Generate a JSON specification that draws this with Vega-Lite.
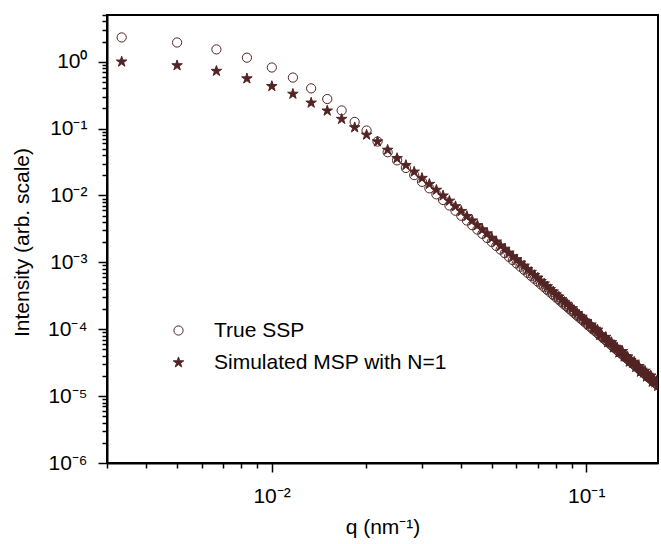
{
  "$schema": "https://vega.github.io/schema/vega-lite/v6.json",
  "width": 551,
  "height": 448,
  "autosize": {"type": "none"},
  "padding": {"left": 107, "top": 15, "right": 3, "bottom": 81},
  "background": "white",
  "config": {
    "view": {"stroke": "black", "strokeWidth": 2},
    "font": "Liberation Sans",
    "axis": {
      "labelFont": "Liberation Sans", "titleFont": "Liberation Sans",
      "labelFontSize": 21, "titleFontSize": 21, "titleFontWeight": "normal",
      "labelColor": "black", "titleColor": "black",
      "domainColor": "black", "domainWidth": 2,
      "tickColor": "black", "tickWidth": 1.5,
      "grid": false, "labelOverlap": false, "labelFlush": false
    }
  },
  "data": {"values": [
    {"q":0.00334,"ssp":2.31,"msp":1.0},
    {"q":0.00501,"ssp":1.94,"msp":0.88},
    {"q":0.00668,"ssp":1.53,"msp":0.726},
    {"q":0.00835,"ssp":1.15,"msp":0.56},
    {"q":0.01002,"ssp":0.82,"msp":0.43},
    {"q":0.01169,"ssp":0.58,"msp":0.33},
    {"q":0.01336,"ssp":0.40,"msp":0.243},
    {"q":0.01503,"ssp":0.277,"msp":0.185},
    {"q":0.0167,"ssp":0.187,"msp":0.139},
    {"q":0.01837,"ssp":0.126,"msp":0.104},
    {"q":0.02004,"ssp":0.0937,"msp":0.0807},
    {"q":0.02171,"ssp":0.0641,"msp":0.064},
    {"q":0.02338,"ssp":0.0443,"msp":0.048},
    {"q":0.02505,"ssp":0.0335,"msp":0.036},
    {"q":0.02672,"ssp":0.0258,"msp":0.0284},
    {"q":0.02839,"ssp":0.0202,"msp":0.0226},
    {"q":0.03006,"ssp":0.0160,"msp":0.0182},
    {"q":0.03173,"ssp":0.0128,"msp":0.0148},
    {"q":0.0334,"ssp":0.0104,"msp":0.0121},
    {"q":0.03507,"ssp":0.00856,"msp":0.00993},
    {"q":0.03674,"ssp":0.00709,"msp":0.0083},
    {"q":0.03841,"ssp":0.00592,"msp":0.00687},
    {"q":0.04008,"ssp":0.00498,"msp":0.00583},
    {"q":0.04175,"ssp":0.00422,"msp":0.0049},
    {"q":0.04342,"ssp":0.0036,"msp":0.00421},
    {"q":0.04509,"ssp":0.00309,"msp":0.00358},
    {"q":0.04676,"ssp":0.00267,"msp":0.0031},
    {"q":0.04843,"ssp":0.00231,"msp":0.0027},
    {"q":0.0501,"ssp":0.00202,"msp":0.00232},
    {"q":0.05177,"ssp":0.00176,"msp":0.00204},
    {"q":0.05344,"ssp":0.00155,"msp":0.00178},
    {"q":0.05511,"ssp":0.00137,"msp":0.00159},
    {"q":0.05678,"ssp":0.00121,"msp":0.00139},
    {"q":0.05845,"ssp":0.001078,"msp":0.001229},
    {"q":0.06012,"ssp":0.000962,"msp":0.001106},
    {"q":0.06179,"ssp":0.000861,"msp":0.000982},
    {"q":0.06346,"ssp":0.000773,"msp":0.000889},
    {"q":0.06513,"ssp":0.000696,"msp":0.000786},
    {"q":0.0668,"ssp":0.000627,"msp":0.000715},
    {"q":0.06847,"ssp":0.000568,"msp":0.000642},
    {"q":0.07014,"ssp":0.000515,"msp":0.000587},
    {"q":0.07181,"ssp":0.000468,"msp":0.000524},
    {"q":0.07348,"ssp":0.000426,"msp":0.000481},
    {"q":0.07515,"ssp":0.000389,"msp":0.000436},
    {"q":0.07682,"ssp":0.000356,"msp":0.000395},
    {"q":0.07849,"ssp":0.000326,"msp":0.000365},
    {"q":0.08016,"ssp":0.0003,"msp":0.00033},
    {"q":0.08183,"ssp":0.000276,"msp":0.000306},
    {"q":0.0835,"ssp":0.000254,"msp":0.000279},
    {"q":0.08517,"ssp":0.000234,"msp":0.000255},
    {"q":0.08684,"ssp":0.000217,"msp":0.000239},
    {"q":0.08851,"ssp":0.0002,"msp":0.000216},
    {"q":0.09018,"ssp":0.000186,"msp":0.000205},
    {"q":0.09185,"ssp":0.000172,"msp":0.000184},
    {"q":0.09352,"ssp":0.00016,"msp":0.000174},
    {"q":0.09519,"ssp":0.000149,"msp":0.000158},
    {"q":0.09686,"ssp":0.000139,"msp":0.000153},
    {"q":0.09853,"ssp":0.00013,"msp":0.000135},
    {"q":0.1002,"ssp":0.000121,"msp":0.000132},
    {"q":0.10187,"ssp":0.000113,"msp":0.000117},
    {"q":0.10354,"ssp":0.000106,"msp":0.000117},
    {"q":0.10521,"ssp":0.0000995,"msp":0.000102},
    {"q":0.10688,"ssp":0.0000933,"msp":0.000101},
    {"q":0.10855,"ssp":0.0000876,"msp":0.0000981},
    {"q":0.11022,"ssp":0.0000824,"msp":0.0000816},
    {"q":0.11189,"ssp":0.0000775,"msp":0.0000829},
    {"q":0.11356,"ssp":0.000073,"msp":0.0000752},
    {"q":0.11523,"ssp":0.0000688,"msp":0.0000764},
    {"q":0.1169,"ssp":0.0000649,"msp":0.0000636},
    {"q":0.11857,"ssp":0.0000612,"msp":0.0000649},
    {"q":0.12024,"ssp":0.0000579,"msp":0.0000637},
    {"q":0.12191,"ssp":0.0000547,"msp":0.0000531},
    {"q":0.12358,"ssp":0.0000518,"msp":0.0000544},
    {"q":0.12525,"ssp":0.000049,"msp":0.0000534},
    {"q":0.12692,"ssp":0.0000465,"msp":0.0000446},
    {"q":0.12859,"ssp":0.0000441,"msp":0.0000459},
    {"q":0.13026,"ssp":0.0000418,"msp":0.0000468},
    {"q":0.13193,"ssp":0.0000397,"msp":0.0000389},
    {"q":0.1336,"ssp":0.0000378,"msp":0.0000389},
    {"q":0.13527,"ssp":0.0000359,"msp":0.0000388},
    {"q":0.13694,"ssp":0.0000342,"msp":0.0000325},
    {"q":0.13861,"ssp":0.0000325,"msp":0.0000345},
    {"q":0.14028,"ssp":0.000031,"msp":0.0000313},
    {"q":0.14195,"ssp":0.0000295,"msp":0.0000325},
    {"q":0.14362,"ssp":0.0000282,"msp":0.0000271},
    {"q":0.14529,"ssp":0.0000269,"msp":0.000028},
    {"q":0.14696,"ssp":0.0000256,"msp":0.0000279},
    {"q":0.14863,"ssp":0.0000245,"msp":0.000023},
    {"q":0.1503,"ssp":0.0000234,"msp":0.0000246},
    {"q":0.15197,"ssp":0.0000224,"msp":0.0000224},
    {"q":0.15364,"ssp":0.0000214,"msp":0.0000238},
    {"q":0.15531,"ssp":0.0000205,"msp":0.0000195},
    {"q":0.15698,"ssp":0.0000196,"msp":0.0000208},
    {"q":0.15865,"ssp":0.0000188,"msp":0.0000192},
    {"q":0.16032,"ssp":0.000018,"msp":0.0000202},
    {"q":0.16199,"ssp":0.0000173,"msp":0.0000163},
    {"q":0.16366,"ssp":0.0000166,"msp":0.0000178},
    {"q":0.16533,"ssp":0.0000159,"msp":0.0000159},
    {"q":0.167,"ssp":0.0000153,"msp":0.0000168},
    {"q":0.16867,"ssp":0.0000147,"msp":0.0000141}
  ]},
  "transform": [{"fold": ["ssp", "msp"], "as": ["series", "I"]}],
  "layer": [
    {
      "mark": {"type": "point", "opacity": 0, "size": 1},
      "encoding": {
        "x": {
          "field": "q", "type": "quantitative",
          "scale": {"type": "log", "domain": [0.003, 0.169], "nice": false},
          "axis": {
            "orient": "bottom", "title": null, "labels": false, "domain": false, "tickSize": 5,
            "values": [0.003,0.004,0.005,0.006,0.007,0.008,0.009,0.02,0.03,0.04,0.05,0.06,0.07,0.08,0.09]
          }
        },
        "y": {
          "field": "I", "type": "quantitative",
          "scale": {"type": "log", "domain": [0.000001, 5], "nice": false},
          "axis": {
            "orient": "left", "title": null, "labels": false, "domain": false, "tickSize": 5,
            "values": [0.000002,0.000003,0.000004,0.000005,0.000006,0.000007,0.000008,0.000009,
                       0.00002,0.00003,0.00004,0.00005,0.00006,0.00007,0.00008,0.00009,
                       0.0002,0.0003,0.0004,0.0005,0.0006,0.0007,0.0008,0.0009,
                       0.002,0.003,0.004,0.005,0.006,0.007,0.008,0.009,
                       0.02,0.03,0.04,0.05,0.06,0.07,0.08,0.09,
                       0.2,0.3,0.4,0.5,0.6,0.7,0.8,0.9,
                       2,3,4,5]
          }
        }
      }
    },
    {
      "mark": {"type": "point", "filled": true, "size": 85, "strokeWidth": 1, "opacity": 1, "clip": true},
      "encoding": {
        "x": {
          "field": "q", "type": "quantitative",
          "scale": {"type": "log", "domain": [0.003, 0.169], "nice": false},
          "axis": {
            "orient": "bottom",
            "title": "q (nm⁻¹)",
            "values": [0.01, 0.1],
            "tickSize": 9,
            "labelExpr": "datum.value < 0.05 ? '10⁻²' : '10⁻¹'",
            "labelPadding": 13,
            "titleX": 275.5, "titleY": 70.7, "titleBaseline": "alphabetic", "titleAlign": "center"
          }
        },
        "y": {
          "field": "I", "type": "quantitative",
          "scale": {"type": "log", "domain": [0.000001, 5], "nice": false},
          "axis": {
            "orient": "left",
            "title": "Intensity (arb. scale)",
            "values": [0.000001, 0.00001, 0.0001, 0.001, 0.01, 0.1, 1],
            "tickSize": 9,
            "labelExpr": "['10⁻⁶','10⁻⁵','10⁻⁴','10⁻³','10⁻²','10⁻¹','10⁰'][round(log(datum.value)/LN10) + 6]",
            "labelPadding": 11,
            "titleX": -78.7, "titleY": 227, "titleAngle": -90, "titleBaseline": "alphabetic", "titleAlign": "center"
          }
        },
        "shape": {
          "field": "series", "type": "nominal",
          "scale": {"domain": ["ssp", "msp"], "range": ["circle", "M0,-1.2L0.27,-0.372L1.141,-0.371L0.437,0.142L0.705,0.971L0,0.46L-0.705,0.971L-0.437,0.142L-1.141,-0.371L-0.27,-0.372Z"]},
          "legend": {"title": null, "orient": "none", "legendX": 61, "legendY": 305, "labelFontSize": 21, "labelFont": "Liberation Sans", "labelColor": "black", "labelLimit": 0, "symbolSize": 85, "labelOffset": 25, "rowPadding": 10, "padding": 0, "symbolStrokeWidth": 1, "labelExpr": "datum.label == 'ssp' ? 'True SSP' : 'Simulated MSP with N=1'"}
        },
        "fill": {
          "field": "series", "type": "nominal",
          "scale": {"domain": ["ssp", "msp"], "range": ["transparent", "#522424"]},
          "legend": {"title": null, "orient": "none", "legendX": 61, "legendY": 305, "labelFontSize": 21, "labelFont": "Liberation Sans", "labelColor": "black", "labelLimit": 0, "symbolSize": 85, "labelOffset": 25, "rowPadding": 10, "padding": 0, "symbolStrokeWidth": 1, "labelExpr": "datum.label == 'ssp' ? 'True SSP' : 'Simulated MSP with N=1'"}
        },
        "stroke": {
          "field": "series", "type": "nominal",
          "scale": {"domain": ["ssp", "msp"], "range": ["#522424", "#522424"]},
          "legend": {"title": null, "orient": "none", "legendX": 61, "legendY": 305, "labelFontSize": 21, "labelFont": "Liberation Sans", "labelColor": "black", "labelLimit": 0, "symbolSize": 85, "labelOffset": 25, "rowPadding": 10, "padding": 0, "symbolStrokeWidth": 1, "labelExpr": "datum.label == 'ssp' ? 'True SSP' : 'Simulated MSP with N=1'"}
        }
      }
    }
  ],
  "resolve": {"axis": {"x": "independent", "y": "independent"}}
}
